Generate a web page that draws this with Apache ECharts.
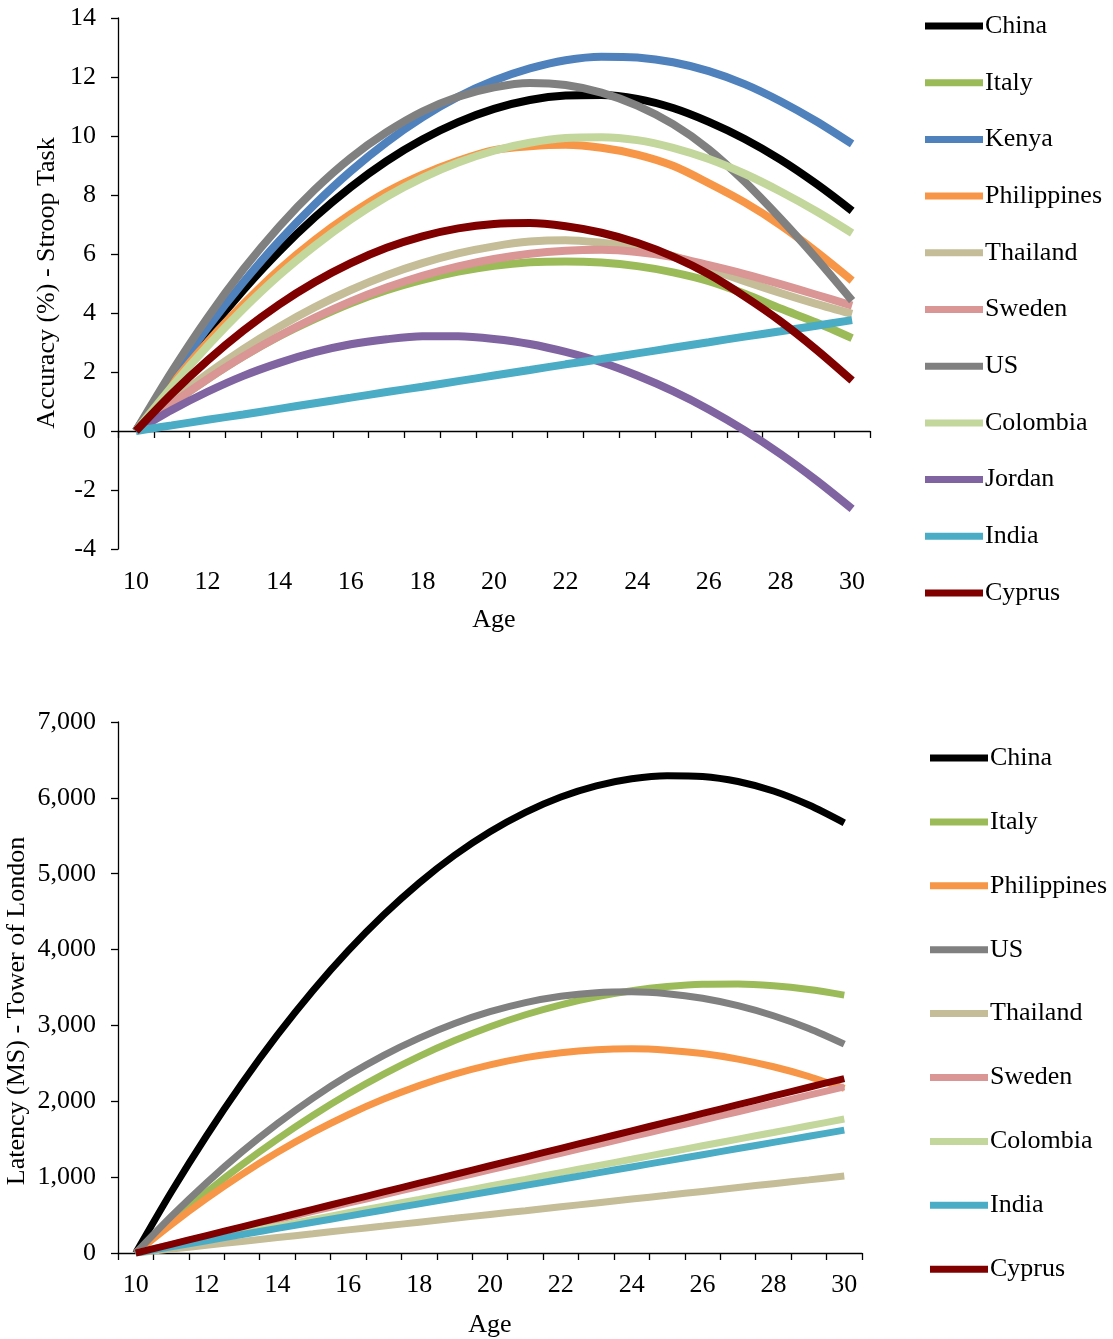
<!DOCTYPE html>
<html>
<head>
<meta charset="utf-8">
<script src="https://cdn.jsdelivr.net/npm/echarts@6/dist/echarts.min.js"></script>
<style>
  html, body { margin: 0; padding: 0; background: #fff; }
  #chart { width: 1113px; height: 1339px; }
</style>
</head>
<body>
<div id="chart"></div>
<script>
// ---------- Data (ages 10..30) ----------
const ages = ['10','11','12','13','14','15','16','17','18','19','20','21','22','23','24','25','26','27','28','29','30'];

// Accuracy (%) - Stroop Task
const accChina       = [0, 1.74, 3.33, 4.78, 6.09, 7.25, 8.27, 9.15, 9.88, 10.47, 10.92, 11.22, 11.37, 11.39, 11.26, 10.95, 10.48, 9.90, 9.20, 8.38, 7.46];
const accItaly       = [0, 0.92, 1.76, 2.53, 3.21, 3.80, 4.33, 4.77, 5.12, 5.40, 5.60, 5.72, 5.75, 5.71, 5.59, 5.38, 5.08, 4.65, 4.15, 3.68, 3.15];
const accKenya       = [0, 1.82, 3.50, 5.04, 6.44, 7.69, 8.81, 9.79, 10.63, 11.33, 11.88, 12.29, 12.57, 12.69, 12.66, 12.50, 12.20, 11.76, 11.18, 10.50, 9.73];
const accPhilippines = [0, 1.57, 3.01, 4.30, 5.47, 6.48, 7.35, 8.10, 8.69, 9.16, 9.52, 9.65, 9.70, 9.60, 9.37, 8.99, 8.40, 7.75, 6.98, 6.08, 5.10];
const accThailand    = [0, 1.01, 1.94, 2.78, 3.53, 4.20, 4.78, 5.28, 5.69, 6.02, 6.26, 6.42, 6.47, 6.38, 6.22, 5.93, 5.50, 5.08, 4.68, 4.31, 3.97];
const accSweden      = [0, 0.92, 1.76, 2.53, 3.22, 3.84, 4.39, 4.86, 5.26, 5.58, 5.83, 6.01, 6.11, 6.14, 6.07, 5.90, 5.62, 5.32, 4.98, 4.62, 4.25];
const accUS          = [0, 2.01, 3.84, 5.48, 6.93, 8.19, 9.26, 10.13, 10.83, 11.33, 11.65, 11.80, 11.73, 11.47, 11.03, 10.40, 9.55, 8.45, 7.20, 5.85, 4.42];
const accColombia    = [0, 1.50, 2.88, 4.14, 5.28, 6.28, 7.17, 7.94, 8.58, 9.10, 9.50, 9.77, 9.93, 9.96, 9.86, 9.60, 9.22, 8.72, 8.12, 7.45, 6.71];
const accJordan      = [0, 0.71, 1.33, 1.87, 2.31, 2.67, 2.94, 3.11, 3.21, 3.21, 3.12, 2.95, 2.68, 2.33, 1.88, 1.35, 0.73, 0.02, -0.78, -1.67, -2.64];
const accIndia       = [0, 0.19, 0.38, 0.56, 0.75, 0.94, 1.13, 1.32, 1.50, 1.69, 1.88, 2.07, 2.26, 2.44, 2.63, 2.82, 3.01, 3.20, 3.38, 3.57, 3.76];
const accCyprus      = [0, 1.26, 2.39, 3.40, 4.29, 5.05, 5.69, 6.21, 6.60, 6.87, 7.02, 7.05, 6.94, 6.72, 6.38, 5.91, 5.31, 4.56, 3.72, 2.76, 1.71];

// Latency (MS) - Tower of London
const latChina       = [0, 800, 1546, 2237, 2874, 3457, 3985, 4458, 4878, 5243, 5553, 5809, 6011, 6158, 6251, 6292, 6282, 6215, 6090, 5905, 5670];
const latItaly       = [0, 414, 802, 1165, 1501, 1812, 2098, 2357, 2592, 2800, 2983, 3141, 3271, 3378, 3457, 3512, 3542, 3545, 3522, 3473, 3400];
const latPhilippines = [0, 374, 719, 1037, 1327, 1589, 1823, 2029, 2207, 2358, 2480, 2575, 2641, 2680, 2692, 2674, 2629, 2556, 2455, 2327, 2170];
const latUS          = [0, 481, 925, 1334, 1705, 2042, 2342, 2606, 2833, 3026, 3181, 3301, 3384, 3432, 3444, 3419, 3358, 3261, 3128, 2960, 2754];
const latThailand    = [0, 51, 102, 152, 203, 254, 305, 355, 406, 457, 508, 558, 609, 660, 711, 761, 812, 863, 914, 964, 1015];
const latSweden      = [0, 110, 219, 329, 438, 548, 657, 767, 876, 986, 1095, 1205, 1314, 1424, 1533, 1643, 1752, 1862, 1971, 2081, 2190];
const latColombia    = [0, 88, 177, 265, 353, 442, 530, 618, 706, 795, 883, 971, 1060, 1148, 1236, 1325, 1413, 1501, 1589, 1678, 1766];
const latIndia       = [0, 81, 162, 243, 324, 405, 486, 567, 648, 729, 810, 891, 972, 1053, 1134, 1215, 1296, 1377, 1458, 1539, 1620];
const latCyprus      = [0, 115, 230, 345, 460, 575, 690, 805, 920, 1035, 1150, 1265, 1380, 1495, 1610, 1725, 1840, 1955, 2070, 2185, 2300];

const topNames = ['China','Italy','Kenya','Philippines','Thailand','Sweden','US','Colombia','Jordan','India','Cyprus'];
const topValues = [accChina, accItaly, accKenya, accPhilippines, accThailand, accSweden, accUS, accColombia, accJordan, accIndia, accCyprus];
const botNames = ['China','Italy','Philippines','US','Thailand','Sweden','Colombia','India','Cyprus'];
const botValues = [latChina, latItaly, latPhilippines, latUS, latThailand, latSweden, latColombia, latIndia, latCyprus];

const topYTicks = { min: -4, max: 14, interval: 2 };
const botYTicks = { min: 0, max: 7000, interval: 1000 };

// ---------- Styles ----------
const colors = {
  China: '#000000', Italy: '#9BBB59', Kenya: '#4F81BD', Philippines: '#F79646',
  Thailand: '#C4BD97', Sweden: '#D99694', US: '#808080', Colombia: '#C3D69B',
  Jordan: '#8064A2', India: '#4BACC6', Cyprus: '#800000'
};
const FONT = '"Liberation Serif", "Times New Roman", serif';
const FS = 26;
const txt = { color: '#000', fontFamily: FONT, fontSize: FS };

function mkSeries(names, values, xIdx, yIdx, width) {
  return names.map((n, k) => ({
    name: n, type: 'line', xAxisIndex: xIdx, yAxisIndex: yIdx,
    data: values[k],
    smooth: 0.3, showSymbol: false, symbol: 'none',
    color: colors[n],
    lineStyle: { color: colors[n], width: width, cap: 'butt' },
    emphasis: { disabled: true }, silent: true, z: 2 + k
  }));
}
function mkLegend(names, left, top, gap) {
  return {
    orient: 'vertical', left: left, top: top, itemGap: gap, padding: 0,
    itemWidth: 58, itemHeight: 7, icon: 'rect', selectedMode: false,
    textStyle: Object.assign({}, txt, { lineHeight: 28, padding: [0, 0, 0, -3] }),
    data: names.map(n => ({ name: n, icon: 'rect', itemStyle: { color: colors[n], borderWidth: 0 } }))
  };
}
const axisLineStyle = { color: '#000', width: 1.3 };

const option = {
  animation: false,
  backgroundColor: '#fff',
  grid: [
    { left: 118, top: 18, width: 752, height: 531, containLabel: false },
    { left: 118, top: 722, width: 744, height: 531, containLabel: false }
  ],
  xAxis: [
    { gridIndex: 0, type: 'category', data: ages, boundaryGap: true, position: 'bottom',
      axisLine: { show: true, onZero: true, lineStyle: axisLineStyle },
      axisTick: { show: true, interval: 0, alignWithLabel: false, length: 7, inside: false, lineStyle: axisLineStyle },
      axisLabel: { show: false }, splitLine: { show: false } },
    { gridIndex: 0, type: 'category', data: ages, boundaryGap: true, position: 'bottom',
      axisLine: { show: false, onZero: false }, axisTick: { show: false },
      axisLabel: Object.assign({ show: true, interval: 1, margin: 20 }, txt),
      name: 'Age', nameLocation: 'middle', nameGap: 58, nameTextStyle: txt, splitLine: { show: false } },
    { gridIndex: 1, type: 'category', data: ages, boundaryGap: true, position: 'bottom',
      axisLine: { show: true, onZero: false, lineStyle: axisLineStyle },
      axisTick: { show: true, interval: 0, alignWithLabel: false, length: 7, lineStyle: axisLineStyle },
      axisLabel: Object.assign({ show: true, interval: 1, margin: 19 }, txt),
      name: 'Age', nameLocation: 'middle', nameGap: 59, nameTextStyle: txt, splitLine: { show: false } }
  ],
  yAxis: [
    { gridIndex: 0, type: 'value', min: topYTicks.min, max: topYTicks.max, interval: topYTicks.interval,
      axisLine: { show: true, onZero: false, lineStyle: axisLineStyle },
      axisTick: { show: true, length: 7, lineStyle: axisLineStyle },
      axisLabel: Object.assign({ margin: 22 }, txt), splitLine: { show: false } },
    { gridIndex: 1, type: 'value', min: botYTicks.min, max: botYTicks.max, interval: botYTicks.interval,
      axisLine: { show: true, onZero: false, lineStyle: axisLineStyle },
      axisTick: { show: true, length: 7, lineStyle: axisLineStyle },
      axisLabel: Object.assign({ margin: 22, formatter: v => v.toLocaleString('en-US') }, txt),
      splitLine: { show: false } }
  ],
  legend: [
    mkLegend(topNames, 925, 12, 28.7),
    mkLegend(botNames, 930, 744, 35.9)
  ],
  graphic: [
    { type: 'text', x: 47, y: 283, rotation: Math.PI / 2,
      style: { text: 'Accuracy (%) - Stroop Task', fill: '#000', font: FS + 'px ' + FONT, align: 'center', verticalAlign: 'middle' } },
    { type: 'text', x: 17, y: 1011, rotation: Math.PI / 2,
      style: { text: 'Latency (MS) - Tower of London', fill: '#000', font: FS + 'px ' + FONT, align: 'center', verticalAlign: 'middle' } }
  ],
  series: [].concat(
    mkSeries(topNames, topValues, 0, 0, 8),
    mkSeries(botNames, botValues, 2, 1, 7)
  )
};

const chart = echarts.init(document.getElementById('chart'), null, { renderer: 'canvas' });
chart.setOption(option);
</script>
</body>
</html>
